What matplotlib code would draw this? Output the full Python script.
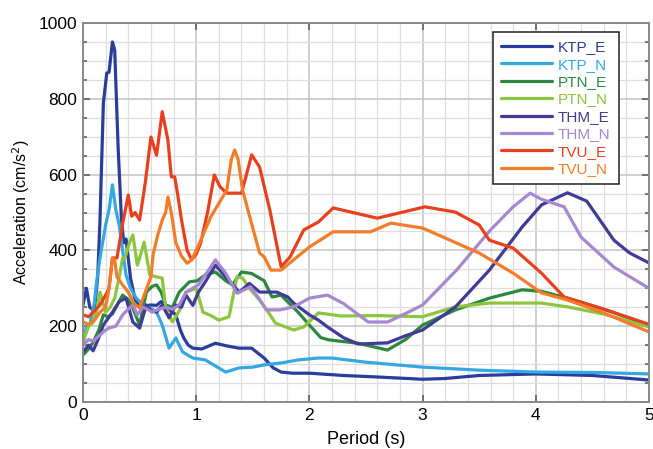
import matplotlib
matplotlib.use("Agg")
import matplotlib.pyplot as plt
from matplotlib.ticker import MultipleLocator

plt.rcParams['font.family'] = ['Liberation Sans', 'DejaVu Sans']

# ---------------- data (period in s, acceleration in cm/s^2) ----------------
ktp_e_p = [0, 0.03, 0.06, 0.1, 0.13, 0.15, 0.18, 0.21, 0.23, 0.26, 0.28, 0.31, 0.34, 0.36, 0.38, 0.42,
           0.46, 0.5, 0.55, 0.59, 0.65, 0.69, 0.73, 0.78, 0.82, 0.86, 0.89, 0.93, 0.97, 1.05, 1.17, 1.27,
           1.38, 1.49, 1.6, 1.68, 1.75, 1.85, 2.0, 2.3, 2.6, 3.0, 3.2, 3.5, 4.0, 4.5, 5.0]
ktp_e_v = [256, 300, 250, 240, 330, 480, 789, 868, 870, 950, 929, 673, 480, 420, 430, 327,
           270, 250, 250, 256, 255, 265, 250, 240, 230, 190, 169, 150, 142, 140, 155, 148,
           142, 142, 116, 90, 79, 76, 76, 70, 66, 60, 62, 70, 74, 70, 58]

ktp_n_p = [0, 0.03, 0.06, 0.1, 0.12, 0.15, 0.2, 0.23, 0.26, 0.29, 0.32, 0.35, 0.38, 0.42, 0.47, 0.52,
           0.56, 0.61, 0.65, 0.7, 0.76, 0.82, 0.88, 0.97, 1.08, 1.17, 1.26, 1.38, 1.5, 1.6, 1.75, 1.9,
           2.08, 2.2, 2.5, 3.0, 3.5, 4.0, 4.5, 5.0]
ktp_n_v = [150, 200, 203, 260, 317, 380, 467, 507, 573, 507, 467, 400, 335, 300, 274, 260,
           255, 245, 237, 203, 142, 169, 132, 116, 111, 95, 79, 90, 92, 98, 103, 111,
           116, 116, 105, 92, 84, 79, 78, 74]

ptn_e_p = [0, 0.05, 0.09, 0.14, 0.18, 0.22, 0.26, 0.3, 0.35, 0.4, 0.44, 0.5, 0.56, 0.61, 0.65, 0.69,
           0.73, 0.79, 0.85, 0.94, 1.01, 1.08, 1.17, 1.26, 1.32, 1.4, 1.49, 1.6, 1.67, 1.75, 1.85, 1.9,
           2.0, 2.1, 2.17, 2.43, 2.69, 2.85, 3.0, 3.29, 3.59, 3.88, 4.05, 4.28, 4.6, 5.0]
ptn_e_v = [124, 140, 158, 190, 230, 225, 232, 255, 282, 270, 248, 203, 290, 305, 309, 290,
           256, 250, 290, 317, 320, 335, 343, 320, 309, 343, 339, 320, 277, 282, 252, 237,
           203, 170, 164, 155, 137, 165, 203, 243, 274, 296, 292, 274, 245, 203]

ptn_n_p = [0, 0.05, 0.09, 0.12, 0.15, 0.2, 0.24, 0.28, 0.32, 0.35, 0.37, 0.41, 0.44, 0.48, 0.51, 0.54,
           0.59, 0.65, 0.7, 0.73, 0.79, 0.85, 0.91, 1.0, 1.06, 1.13, 1.2, 1.29, 1.36, 1.41, 1.47, 1.56,
           1.63, 1.7, 1.86, 1.95, 2.08, 2.28, 2.6, 3.0, 3.29, 3.59, 4.05, 4.28, 4.6, 5.0]
ptn_n_v = [158, 200, 210, 240, 290, 237, 250, 274, 330, 380, 380, 420, 441, 361, 390, 422,
           335, 330, 327, 248, 211, 240, 290, 300, 237, 228, 216, 225, 330, 327, 300, 269,
           240, 208, 190, 198, 235, 227, 228, 225, 251, 261, 261, 251, 232, 198]

thm_e_p = [0, 0.05, 0.09, 0.14, 0.18, 0.22, 0.26, 0.32, 0.38, 0.44, 0.5, 0.56, 0.6, 0.65, 0.7, 0.76,
           0.82, 0.87, 0.91, 0.97, 1.02, 1.08, 1.17, 1.26, 1.38, 1.47, 1.56, 1.71, 1.81, 1.86, 2.0, 2.08,
           2.16, 2.3, 2.43, 2.69, 2.85, 3.0, 3.29, 3.59, 3.88, 4.05, 4.28, 4.45, 4.69, 4.83, 5.0]
thm_e_v = [132, 150, 135, 170, 203, 220, 237, 265, 274, 211, 195, 256, 240, 237, 256, 222,
           256, 250, 282, 255, 290, 317, 361, 330, 290, 313, 290, 290, 277, 261, 230, 216,
           198, 170, 153, 156, 175, 190, 251, 348, 462, 520, 552, 530, 427, 393, 367]

thm_n_p = [0, 0.05, 0.09, 0.15, 0.2, 0.23, 0.29, 0.35, 0.4, 0.44, 0.48, 0.53, 0.57, 0.61, 0.67, 0.73,
           0.79, 0.85, 0.91, 1.02, 1.11, 1.17, 1.26, 1.36, 1.48, 1.55, 1.62, 1.74, 1.86, 2.0, 2.16, 2.3,
           2.52, 2.69, 2.86, 3.0, 3.3, 3.6, 3.8, 3.95, 4.05, 4.25, 4.4, 4.69, 5.0]
thm_n_v = [150, 165, 160, 177, 190, 195, 200, 230, 245, 256, 230, 250, 245, 237, 245, 250,
           245, 256, 290, 309, 348, 375, 340, 287, 304, 275, 243, 243, 251, 274, 282, 260,
           211, 211, 235, 256, 348, 454, 515, 551, 535, 515, 435, 356, 300]

tvu_e_p = [0, 0.05, 0.1, 0.15, 0.2, 0.23, 0.26, 0.3, 0.35, 0.4, 0.43, 0.46, 0.5, 0.55, 0.6, 0.65,
           0.7, 0.75, 0.78, 0.81, 0.84, 0.87, 0.92, 0.96, 1.0, 1.04, 1.1, 1.16, 1.21, 1.27, 1.4, 1.49,
           1.56, 1.65, 1.75, 1.83, 1.95, 2.08, 2.21, 2.6, 3.02, 3.29, 3.5, 3.59, 3.8, 4.05, 4.25, 4.6, 5.0]
tvu_e_v = [230, 225, 240, 256, 282, 300, 380, 380, 470, 546, 490, 500, 480, 578, 699, 651,
           766, 691, 594, 594, 541, 480, 400, 375, 390, 420, 500, 599, 568, 551, 551, 652,
           620, 507, 357, 383, 454, 475, 512, 485, 515, 501, 467, 427, 406, 340, 277, 245, 205]

tvu_n_p = [0, 0.05, 0.1, 0.15, 0.2, 0.23, 0.26, 0.28, 0.3, 0.35, 0.4, 0.45, 0.5, 0.55, 0.6, 0.62,
           0.66, 0.7, 0.73, 0.75, 0.78, 0.82, 0.87, 0.92, 0.96, 1.0, 1.04, 1.13, 1.27, 1.31, 1.34, 1.37,
           1.41, 1.49, 1.56, 1.6, 1.66, 1.75, 1.86, 2.0, 2.21, 2.54, 2.72, 3.0, 3.5, 3.8, 4.05, 4.28, 4.6, 5.0]
tvu_n_v = [211, 205, 215, 237, 250, 300, 380, 375, 330, 309, 290, 260, 248, 290, 330, 390,
           440, 480, 500, 541, 500, 420, 385, 366, 375, 400, 427, 489, 559, 640, 665, 640,
           559, 470, 393, 383, 348, 348, 375, 409, 449, 449, 472, 459, 393, 340, 288, 269, 235, 185]

series = [
    ("KTP_E", ktp_e_p, ktp_e_v, "#2a3c9c"),
    ("KTP_N", ktp_n_p, ktp_n_v, "#34a8e0"),
    ("PTN_E", ptn_e_p, ptn_e_v, "#2c883e"),
    ("PTN_N", ptn_n_p, ptn_n_v, "#8cc63f"),
    ("THM_E", thm_e_p, thm_e_v, "#403b98"),
    ("THM_N", thm_n_p, thm_n_v, "#a588d0"),
    ("TVU_E", tvu_e_p, tvu_e_v, "#e8401d"),
    ("TVU_N", tvu_n_p, tvu_n_v, "#f27c2a"),
]

fig = plt.figure(figsize=(6.53, 4.49), dpi=100)
ax = fig.add_axes([83 / 653, 47 / 449, 566 / 653, 379 / 449])

for name, p, v, c in series:
    ax.plot(p, v, color=c, lw=2.3, label=name, solid_joinstyle='round', solid_capstyle='round')

ax.set_xlim(0, 5)
ax.set_ylim(0, 1000)
ax.xaxis.set_major_locator(MultipleLocator(1))
ax.xaxis.set_minor_locator(MultipleLocator(0.2))
ax.yaxis.set_major_locator(MultipleLocator(200))
ax.yaxis.set_minor_locator(MultipleLocator(50))
ax.grid(which='major', color='#c2c2c2', lw=1.1)
ax.grid(which='minor', color='#dedede', lw=0.9)
ax.set_axisbelow(True)
ax.tick_params(which='both', direction='in', top=True, right=True, labelsize=12.5,
               color='#555555', length=5, width=1.1, pad=4)
ax.tick_params(axis='y', which='minor', length=3)
ax.tick_params(axis='x', which='minor', length=0)
for s in ax.spines.values():
    s.set_color('#8a8a8a')
    s.set_linewidth(1.4)

ax.set_xlabel("Period (s)", fontsize=13, labelpad=6)
ax.set_ylabel("Acceleration (cm/s$^2$)", fontsize=11.5, labelpad=5)

leg = ax.legend(loc='upper left', bbox_to_anchor=(410 / 566, 1 - 9 / 379), borderaxespad=0,
                fontsize=11, frameon=True, fancybox=False, edgecolor='#222222', framealpha=1,
                handlelength=3.3, handletextpad=0.4, labelspacing=0.22, borderpad=0.55)
leg.get_frame().set_linewidth(1.1)
for txt, (name, p, v, c) in zip(leg.get_texts(), series):
    txt.set_color(c)

fig.savefig("out.png", dpi=100)
